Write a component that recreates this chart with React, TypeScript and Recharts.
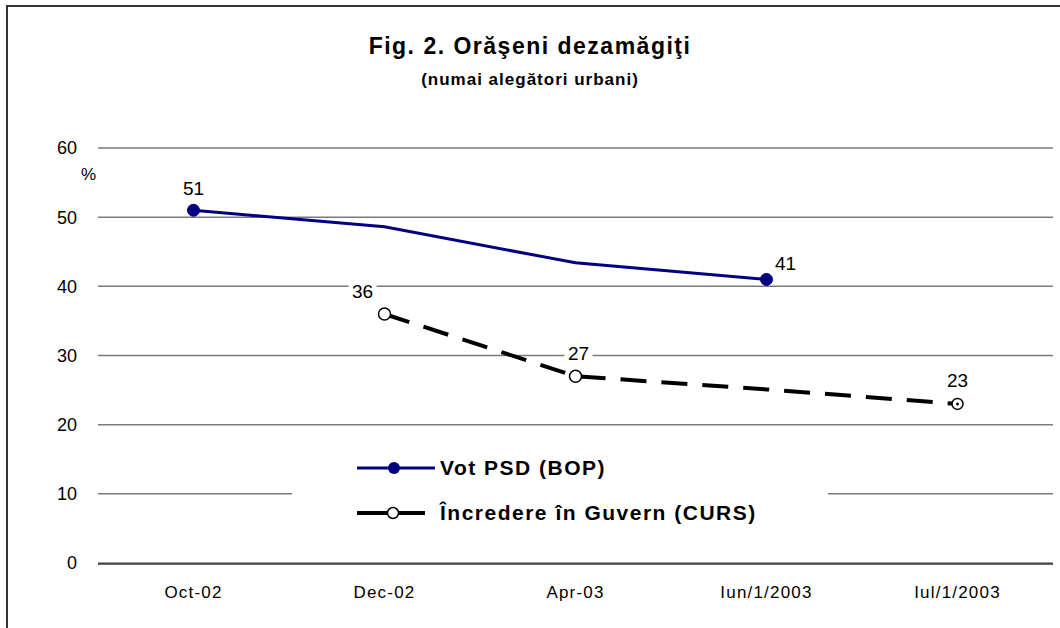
import { CartesianGrid, LabelList, Legend, Line, LineChart, XAxis, YAxis } from "recharts";

const months = ["Oct-02", "Dec-02", "Apr-03", "Iun/1/2003", "Iul/1/2003"];
const votPsd = [51, 48.6, 43.4, 41, null];
const incredereGuvern = [null, 36, 27, 25.1, 23];
const psdLabels = ["51", null, null, "41", null];
const guvernLabels = [null, "36", "27", null, "23"];
const yTicks = [0, 10, 20, 30, 40, 50, 60];

const data = months.map((m, i) => ({
  month: m,
  psd: votPsd[i],
  guvern: incredereGuvern[i],
}));

const FONT = "'Liberation Sans', Arial, sans-serif";
const NAVY = "#000080";
const BAND = (1060 - 98 - 7) / months.length;

// label offsets from their point, per index
const psdLabelOffset: Record<number, [number, number]> = { 0: [0, -22], 3: [19, -16] };
const guvernLabelOffset: Record<number, [number, number]> = { 1: [-22, -23], 2: [3, -23], 4: [0, -23] };

const makeLabel =
  (texts: (string | null)[], offsets: Record<number, [number, number]>) =>
  (props: any) => {
    const { x, y, index } = props;
    const t = texts[index];
    if (!t) return null;
    const [dx, dy] = offsets[index] || [0, -22];
    const cx = x + dx;
    const cy = y + dy;
    return (
      <g>
        <rect x={cx - 14} y={cy - 10} width={28} height={20} fill="#fff" />
        <text
          x={cx}
          y={cy}
          textAnchor="middle"
          dominantBaseline="central"
          fontFamily={FONT}
          fontSize={19}
          fill="#000"
        >
          {t}
        </text>
      </g>
    );
  };

const PsdDot = (props: any) => {
  const { cx, cy, index } = props;
  if (!psdLabels[index] || cx == null) return <g key={"pd" + index} />;
  return <circle key={"pd" + index} cx={cx} cy={cy} r={6} fill={NAVY} stroke={NAVY} />;
};

const GuvernDot = (props: any) => {
  const { cx, cy, index } = props;
  if (!guvernLabels[index] || cx == null) return <g key={"gd" + index} />;
  if (index === months.length - 1) {
    return (
      <g key={"gd" + index}>
        <circle cx={cx} cy={cy} r={5.5} fill="#fff" stroke="#000" strokeWidth={1.5} />
        <circle cx={cx} cy={cy} r={1.5} fill="#000" />
      </g>
    );
  }
  return <circle key={"gd" + index} cx={cx} cy={cy} r={6} fill="#fff" stroke="#000" strokeWidth={1.5} />;
};

const LegendBox = () => (
  <div style={{ position: "relative", width: 536, height: 100, background: "#fff" }}>
    <svg width={160} height={100} style={{ position: "absolute", left: 0, top: 0 }}>
      <line x1={65} y1={28} x2={143} y2={28} stroke={NAVY} strokeWidth={3} />
      <circle cx={102} cy={28} r={6} fill={NAVY} />
      <line x1={65} y1={73} x2={133} y2={73} stroke="#000" strokeWidth={4} />
      <circle cx={101} cy={73} r={5.5} fill="#fff" stroke="#000" strokeWidth={1.5} />
    </svg>
    {["Vot PSD (BOP)", "Încredere în Guvern (CURS)"].map((t, i) => (
      <div
        key={t}
        style={{
          position: "absolute",
          left: 148,
          top: i === 0 ? 15 : 60,
          fontFamily: FONT,
          fontWeight: "bold",
          fontSize: 21,
          letterSpacing: 1.5,
          lineHeight: "26px",
          whiteSpace: "nowrap",
          color: "#000",
        }}
      >
        {t}
      </div>
    ))}
  </div>
);

export default function App() {
  return (
    <div style={{ position: "relative", width: 1060, height: 628, background: "#fff", overflow: "hidden" }}>
      <style>{"body{margin:0}"}</style>
      <LineChart
        width={1060}
        height={628}
        data={data}
        margin={{ top: 148, right: 7, bottom: 63, left: 0 }}
      >
        <CartesianGrid vertical={false} stroke="#7a7a7a" strokeWidth={1.5} />
        <XAxis
          xAxisId="frame"
          type="number"
          domain={[0, months.length]}
          ticks={[0, 1, 2, 3, 4, 5]}
          tick={false}
          height={1}
          tickSize={6}
          stroke="#333"
          strokeWidth={1.5}
          allowDataOverflow
        />
        <XAxis
          dataKey="month"
          height={1}
          padding={{ left: BAND / 2, right: BAND / 2 }}
          axisLine={false}
          tickLine={false}
          tickMargin={17}
          tick={{ fontFamily: FONT, fontSize: 17, fill: "#000", letterSpacing: 1.2 }}
          interval={0}
        />
        <YAxis
          width={98}
          domain={[0, 60]}
          ticks={yTicks}
          axisLine={false}
          tickLine={false}
          tickMargin={15}
          tick={{ fontFamily: FONT, fontSize: 18, fill: "#000" }}
        />
        <Legend
          verticalAlign="middle"
          align="center"
          content={() => <LegendBox />}
          wrapperStyle={{ left: 292, top: 440, width: 536, height: 100 }}
        />
        <Line
          dataKey="psd"
          stroke={NAVY}
          strokeWidth={3}
          dot={PsdDot}
          activeDot={false}
          isAnimationActive={false}
        >
          <LabelList dataKey="psd" content={makeLabel(psdLabels, psdLabelOffset)} />
        </Line>
        <Line
          dataKey="guvern"
          stroke="#000"
          strokeWidth={4}
          strokeDasharray="26 15"
          dot={GuvernDot}
          activeDot={false}
          isAnimationActive={false}
        >
          <LabelList dataKey="guvern" content={makeLabel(guvernLabels, guvernLabelOffset)} />
        </Line>
      </LineChart>
      <div
        style={{
          position: "absolute",
          left: 0,
          top: 31,
          width: 1060,
          textAlign: "center",
          fontFamily: FONT,
          fontWeight: "bold",
          fontSize: 23,
          letterSpacing: 1.5,
          lineHeight: "30px",
        }}
      >
        Fig. 2. Orăşeni dezamăgiţi
      </div>
      <div
        style={{
          position: "absolute",
          left: 0,
          top: 69,
          width: 1060,
          textAlign: "center",
          fontFamily: FONT,
          fontWeight: "bold",
          fontSize: 17,
          letterSpacing: 1,
          lineHeight: "22px",
        }}
      >
        (numai alegători urbani)
      </div>
      <div
        style={{
          position: "absolute",
          left: 81,
          top: 165,
          fontFamily: FONT,
          fontSize: 17,
          lineHeight: "20px",
        }}
      >
        %
      </div>
      <div
        style={{
          position: "absolute",
          left: 6,
          top: 5,
          right: 0,
          bottom: 0,
          borderTop: "2px solid #333",
          borderLeft: "2px solid #333",
          pointerEvents: "none",
        }}
      />
    </div>
  );
}
